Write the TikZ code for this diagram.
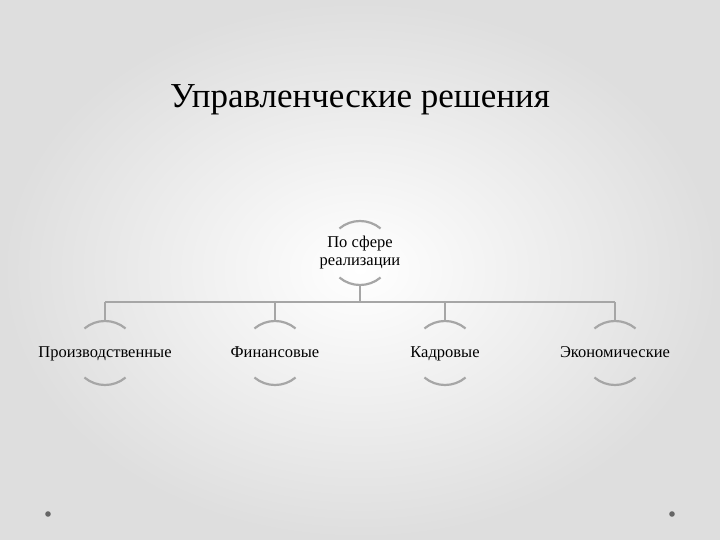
\documentclass[tikz,border=0pt]{standalone}
\usepackage{fontspec}
\setmainfont{Liberation Serif}
\begin{document}
\begin{tikzpicture}[x=1pt,y=-1pt,
  arcline/.style={draw=black!35,line width=2.2pt},
  conn/.style={draw=black!35,line width=1.6pt},
  rootlbl/.style={font=\fontsize{16.5}{18}\selectfont,align=center,inner sep=0pt},
  lbl/.style={rootlbl,text height=11pt,text depth=3pt}]
\shade[inner color=white,outer color=black!13] (0,0) rectangle (720,540);
\useasboundingbox (0,0) rectangle (720,540);
\node[font=\fontsize{35}{40}\selectfont] (title) at (360,100) {Управленческие решения};
\fill[black!60] (48,514) circle (2.8);
\fill[black!60] (672,514) circle (2.8);
% root
\node[rootlbl] (root) at (360,253) {По сфере\\реализации};
\draw[arcline] ([shift={(50:32)}]root.center) arc[start angle=50,end angle=130,radius=32];
\draw[arcline] ([shift={(-50:32)}]root.center) arc[start angle=-50,end angle=-130,radius=32];
\coordinate (rb) at (360,285);
\coordinate (bar) at (360,302);
\draw[conn] (rb) -- (bar);
\foreach \n/\x/\t in {a/105/Производственные,b/275/Финансовые,c/445/Кадровые,d/615/Экономические}{
  \node[lbl] (\n) at (\x,353) {\t};
  \draw[arcline] ([shift={(50:32)}]\n.center) arc[start angle=50,end angle=130,radius=32];
  \draw[arcline] ([shift={(-50:32)}]\n.center) arc[start angle=-50,end angle=-130,radius=32];
  \coordinate (\n t) at (\x,321);
  \coordinate (\n h) at (\x,302);
  \draw[conn] (\n h) -- (\n t);
}
\draw[conn] (ah) -- (dh);
\end{tikzpicture}
\end{document}
